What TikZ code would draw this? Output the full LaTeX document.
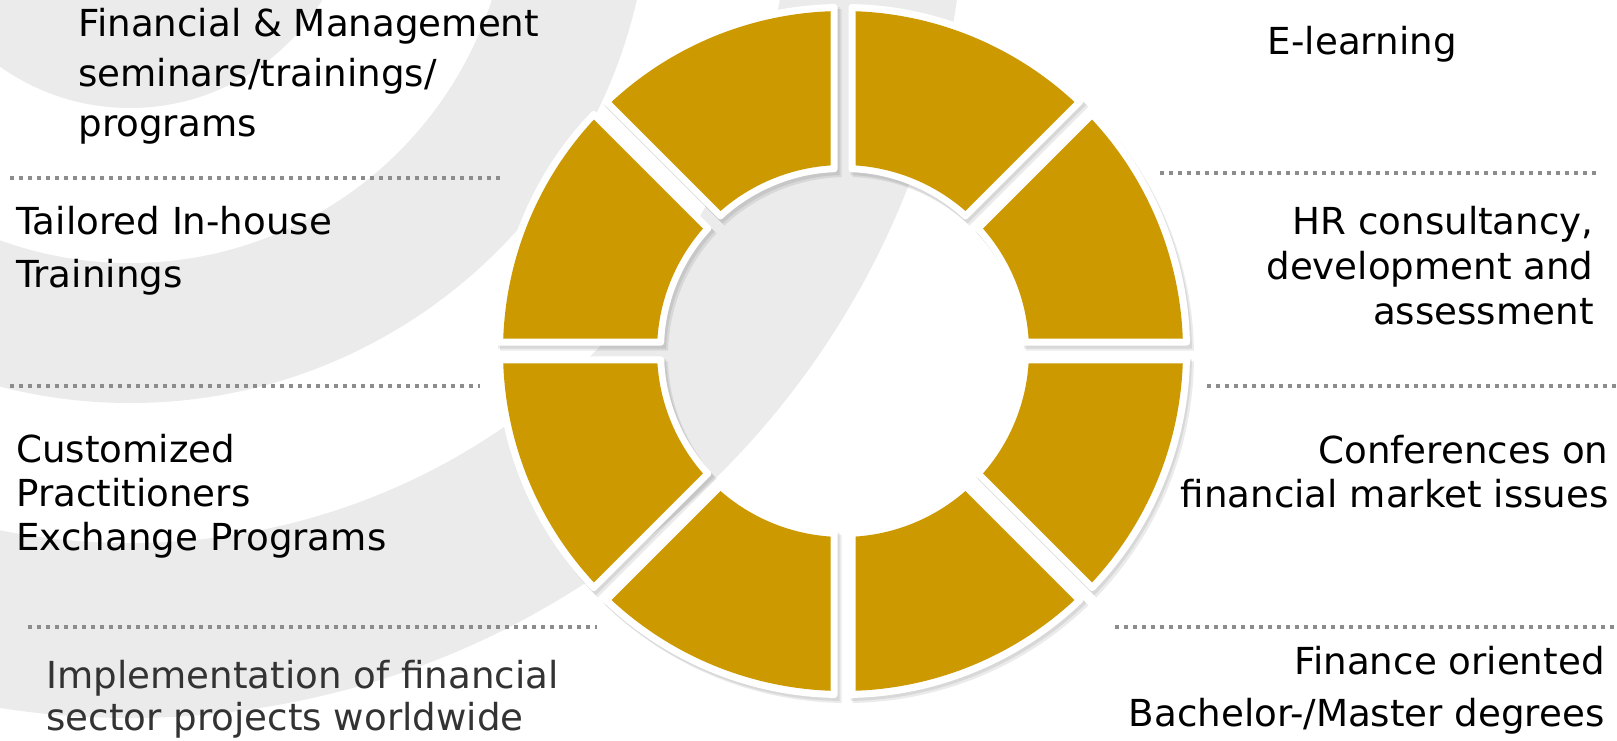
\documentclass[tikz,border=0pt]{standalone}
\usepackage{fontspec}
\setmainfont{DejaVu Sans}
\usetikzlibrary{positioning}
\definecolor{gold}{HTML}{CC9A00}
\definecolor{bgband}{HTML}{EBEBEB}
\definecolor{dotgray}{HTML}{8C8C8C}
\definecolor{darktext}{HTML}{333333}
\tikzset{
  sepline/.style={draw=dotgray, line width=1.75pt, dash pattern=on 2pt off 2.5pt},
  lefttext/.style={anchor=base west, align=left, inner sep=0pt, font=\fontsize{18.6}{#1}\selectfont},
  righttext/.style={anchor=base east, align=right, inner sep=0pt, font=\fontsize{18.6}{#1}\selectfont},
}
% one ring piece: start angle, gap offset, inner radius, outer radius
\newcommand\ringpiece[4]{({#1+asin(#2/#4)}:#4)
  arc[start angle={#1+asin(#2/#4)}, end angle={#1+45-asin(#2/#4)}, radius=#4]
  -- ({#1+45-asin(#2/#3)}:#3)
  arc[start angle={#1+45-asin(#2/#3)}, end angle={#1+asin(#2/#3)}, radius=#3] -- cycle}

\begin{document}
\begin{tikzpicture}[x=0.5pt, y=0.5pt]
\useasboundingbox (0,0) rectangle (1617,740);

% background bands, all round one centre above the page
\begin{scope}
  \clip (0,0) rectangle (1617,740);
  \fill[white] (0,0) rectangle (1617,740);
  \foreach \r/\c in {835/bgband, 660/white, 520/bgband, 380/white, 225/bgband}
    \fill[\c] (130,857) circle[radius=\r];
\end{scope}

% the ring
\begin{scope}[shift={(843,389)}]
  \foreach \a in {0,45,...,315} {
    \fill[black, opacity=.08] [shift={(4,-5)}] \ringpiece{\a}{5.5}{179}{347};
    \fill[black, opacity=.08] [shift={(2,-3)}] \ringpiece{\a}{5.5}{179}{347};
    \fill[white, rounded corners=1.5pt] \ringpiece{\a}{5.5}{179}{347};
    \fill[gold] \ringpiece{\a}{12.5}{186}{340};
  }
\end{scope}

% separators
\draw[sepline] (10,562) -- (503,562);
\draw[sepline] (10,354) -- (480,354);
\draw[sepline] (28,113) -- (597,113);
\draw[sepline] (1160,567) -- (1598,567);
\draw[sepline] (1207,354) -- (1617,354);
\draw[sepline] (1115,113) -- (1617,113);

% left labels (base = last line)
\node[lefttext=25pt] (fin) at (78,603) {Financial \& Management\\seminars/trainings/\\programs};
\node[lefttext=26.5pt] (tail) at (16,452) {Tailored In-house\\Trainings};
\node[lefttext=22pt] (cust) at (16,190) {Customized\\Practitioners\\Exchange Programs};
\node[lefttext=21pt, text=darktext] (impl) at (46,10) {Implementation of financial\\sector projects worldwide};

% right labels
\node[righttext=22pt] (elearn) at (1457,685) {E-learning};
\node[righttext=22.5pt] (hr) at (1594,415) {HR consultancy,\\development and\\assessment};
\node[righttext=22pt] (conf) at (1609,233) {Conferences on\\financial market issues};
\node[righttext=26pt] (finor) at (1605,14) {Finance oriented\\Bachelor-/Master degrees};
\end{tikzpicture}
\end{document}
